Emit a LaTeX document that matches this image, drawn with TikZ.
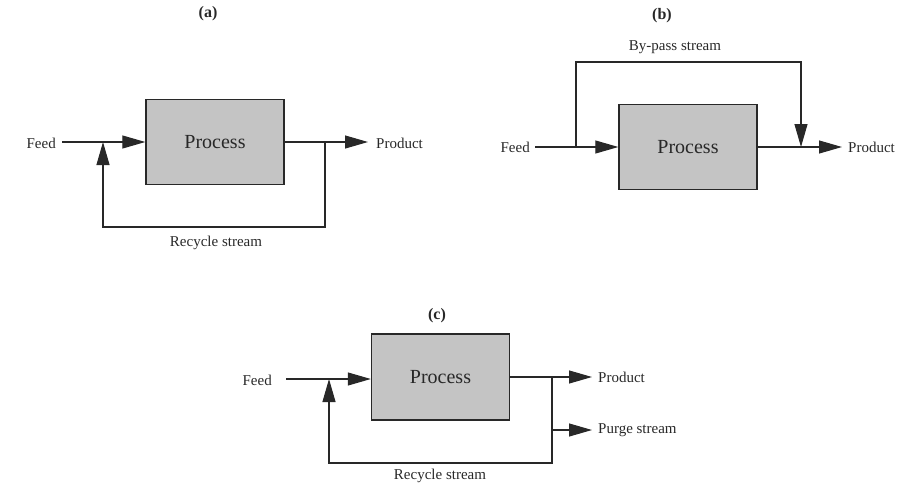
\documentclass[tikz,border=0pt]{standalone}
\usepackage{fontspec}
\setmainfont{Liberation Serif}
\usetikzlibrary{arrows.meta}
\definecolor{boxgray}{RGB}{196,196,196}
\definecolor{ink}{RGB}{40,40,40}
\begin{document}
\begin{tikzpicture}[x=1pt,y=-1pt,
  procbox/.style={draw=ink,line width=1.4pt,fill=boxgray,minimum width=138pt,minimum height=85pt,inner sep=0pt,font=\fontsize{20}{22}\selectfont,text=ink},
  lbl/.style={font=\fontsize{15}{17}\selectfont,text=ink,inner sep=0pt},
  ttl/.style={font=\bfseries\fontsize{16}{18}\selectfont,text=ink,inner sep=0pt},
  flow/.style={draw=ink,line width=1.1pt},
  arr/.style={flow,-{Triangle[length=23pt,width=13pt]}}]
\useasboundingbox (0,0) rectangle (898,485);
% (a)
\node[ttl] (ta) at (208,14) {(a)};
\node[procbox] (pa) at (215,142) {Process};
\node[lbl,anchor=east] (fa) at (56,143) {Feed};
\coordinate (fa0) at (62,142);
\coordinate (ja) at (103,142);
\coordinate (oa) at (325,142);
\coordinate (pta) at (368,142);
\node[lbl,anchor=west] (proda) at (376,143) {Product};
\node[lbl] (reca) at (216,243) {Recycle stream};
\draw[arr] (fa0) -- (pa.west);
\draw[arr] (pa.east) -- (pta);
\draw[arr] (oa) -- ++(0,85) -| (ja);
% (b)
\node[ttl] (tb) at (662,16) {(b)};
\node[procbox] (pb) at (688,147) {Process};
\node[lbl,anchor=east] (fb) at (530,147) {Feed};
\coordinate (fb0) at (535,147);
\coordinate (jb) at (576,147);
\coordinate (ob) at (801,147);
\coordinate (ptb) at (842,147);
\node[lbl,anchor=west] (prodb) at (848,147) {Product};
\node[lbl] (byp) at (675,47) {By-pass stream};
\draw[arr] (fb0) -- (pb.west);
\draw[arr] (pb.east) -- (ptb);
\draw[arr] (jb) -- ++(0,-85) -| (ob);
% (c)
\node[ttl] (tc) at (437,316) {(c)};
\node[procbox,minimum height=86pt] (pc) at (440.5,377) {Process};
\node[lbl,anchor=east] (fc) at (272,380) {Feed};
\coordinate (fc0) at (286,379);
\coordinate (jc) at (329,379);
\coordinate (oc) at (552,377);
\coordinate (ptc) at (592,377);
\coordinate (pgc0) at (552,430);
\coordinate (pgc) at (592,430);
\node[lbl,anchor=west] (prodc) at (598,377) {Product};
\node[lbl,anchor=west] (purge) at (598,430) {Purge stream};
\node[lbl] (recc) at (440,476) {Recycle stream};
\draw[arr] (fc0) -- (fc0 -| pc.west);
\draw[arr] (pc.east |- oc) -- (ptc);
\draw[arr] (pgc0) -- (pgc);
\draw[arr] (oc) -- (552,463) -| (jc);
\end{tikzpicture}
\end{document}
